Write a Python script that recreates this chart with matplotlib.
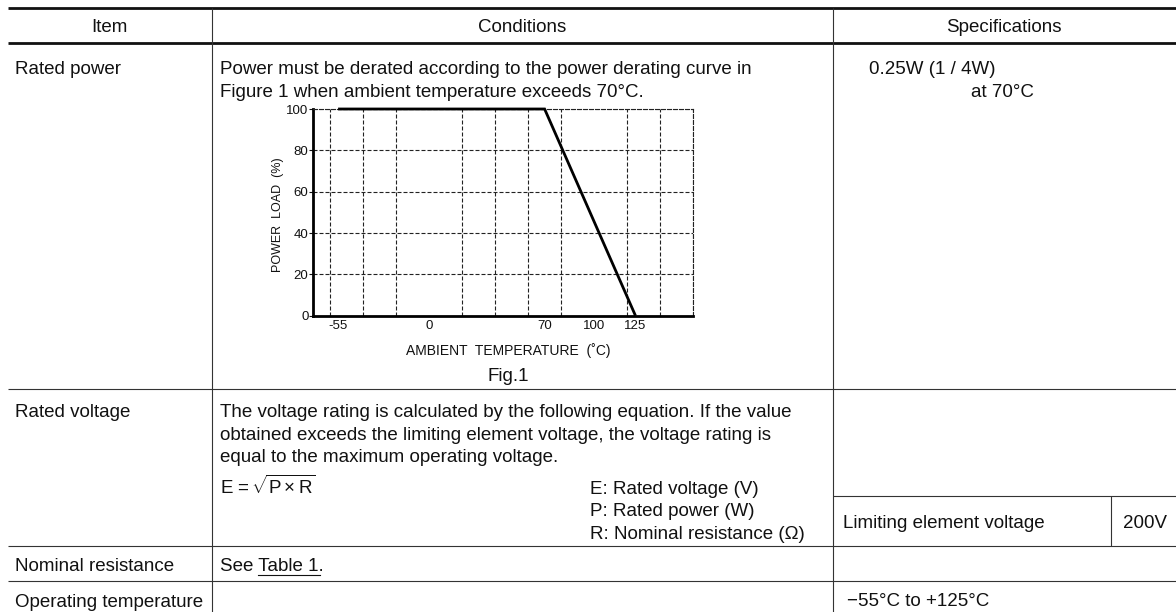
import matplotlib
matplotlib.use('Agg')
import matplotlib.pyplot as plt
from matplotlib.ticker import FixedLocator

plt.rcParams['font.family'] = ['Liberation Sans', 'DejaVu Sans']
plt.rcParams['mathtext.fontset'] = 'custom'
plt.rcParams['mathtext.rm'] = 'Liberation Sans'
plt.rcParams['mathtext.it'] = 'Liberation Sans:italic'
plt.rcParams['mathtext.bf'] = 'Liberation Sans:bold'
plt.rcParams['axes.unicode_minus'] = False

# ---------------- data ----------------
derating_temp = [-55, 70, 125]
derating_load = [100, 100, 0]
x_tick_values = [-55, 0, 70, 100, 125]
x_grid_values = [-60, -55, -40, -20, 0, 20, 40, 60, 80, 100, 120, 140, 160]
y_tick_values = [0, 20, 40, 60, 80, 100]
x_limits = [-70, 160]
y_limits = [0, 100]
x_label = "AMBIENT  TEMPERATURE  (˚C)"
y_label = "POWER  LOAD  (%)"
fig_caption = "Fig.1"

headers = ["Item", "Conditions", "Specifications"]
items = ["Rated power", "Rated voltage", "Nominal resistance", "Operating temperature"]
power_text = ["Power must be derated according to the power derating curve in",
              "Figure 1 when ambient temperature exceeds 70°C."]
power_spec = ["0.25W (1 / 4W)", "at 70°C"]
voltage_text = ["The voltage rating is calculated by the following equation. If the value",
                "obtained exceeds the limiting element voltage, the voltage rating is",
                "equal to the maximum operating voltage."]
voltage_eq = r"E = $\!\sqrt{\mathrm{P}\times\mathrm{R}}$"
voltage_legend = ["E: Rated voltage (V)", "P: Rated power (W)", "R: Nominal resistance (Ω)"]
limit_label = ["Limiting element voltage", "200V"]
resistance_text = ["See ", "Table 1", "."]
temp_spec = "−55°C to +125°C"

# ---------------- figure ----------------
W, H = 1176, 612
fig = plt.figure(figsize=(W / 100, H / 100), dpi=100)
fig.patch.set_facecolor('white')
ax0 = fig.add_axes([0, 0, 1, 1])
ax0.set_xlim(0, W)
ax0.set_ylim(H, 0)
ax0.axis('off')

FS = 13.5
TC = '#111111'
thin = dict(color='#333333', lw=0.8, solid_capstyle='butt')
thick = dict(color='#111111', lw=2.0, solid_capstyle='butt')

# table lines
x_left, c1, c2, x_right = 8, 211.7, 832.7, W
ax0.plot([x_left, x_right], [8.3, 8.3], **thick)
ax0.plot([x_left, x_right], [43.3, 43.3], **thick)
for yy in [389.3, 546, 580.7]:
    ax0.plot([x_left, x_right], [yy, yy], **thin)
ax0.plot([c1, c1], [8.3, H], **thin)
ax0.plot([c2, c2], [8.3, H], **thin)
ax0.plot([c2, x_right], [496, 496], **thin)
ax0.plot([1111.3, 1111.3], [496, 546], **thin)

# headers
for txt, xc in zip(headers, [(x_left + c1) / 2, (c1 + c2) / 2, (c2 + x_right) / 2]):
    ax0.text(xc, 32, txt, ha='center', va='baseline', fontsize=FS, color=TC)

# item column
for txt, yb in zip(items, [74, 417, 571, 607]):
    ax0.text(15, yb, txt, ha='left', va='baseline', fontsize=FS, color=TC)

# rated power
for txt, yb in zip(power_text, [74, 97]):
    ax0.text(220, yb, txt, ha='left', va='baseline', fontsize=FS, color=TC)
ax0.text(869, 74, power_spec[0], ha='left', va='baseline', fontsize=FS, color=TC)
ax0.text(971, 97, power_spec[1], ha='left', va='baseline', fontsize=FS, color=TC)
ax0.text(508, 381, fig_caption, ha='center', va='baseline', fontsize=FS, color=TC)

# rated voltage
for txt, yb in zip(voltage_text, [417, 439.7, 462.4]):
    ax0.text(220, yb, txt, ha='left', va='baseline', fontsize=FS, color=TC)
ax0.text(220, 493.5, voltage_eq, ha='left', va='baseline', fontsize=FS, color=TC)
for txt, yb in zip(voltage_legend, [493.5, 516.2, 538.9]):
    ax0.text(590, yb, txt, ha='left', va='baseline', fontsize=FS, color=TC)
ax0.text(842.7, 528, limit_label[0], ha='left', va='baseline', fontsize=FS, color=TC)
ax0.text(1123, 528, limit_label[1], ha='left', va='baseline', fontsize=FS, color=TC)

# nominal resistance
full = "".join(resistance_text)
ax0.text(220, 571, full, ha='left', va='baseline', fontsize=FS, color=TC)
fig.canvas.draw()
r = fig.canvas.get_renderer()
t1 = ax0.text(0, 0, resistance_text[0] + resistance_text[1], fontsize=FS)
t2 = ax0.text(0, 0, resistance_text[1], fontsize=FS)
w1 = t1.get_window_extent(r).width
w2 = t2.get_window_extent(r).width
t1.remove(); t2.remove()
ax0.plot([220 + w1 - w2, 220 + w1 + 1], [574.5, 574.5], color=TC, lw=0.8)

# operating temperature
ax0.text(846.7, 606, temp_spec, ha='left', va='baseline', fontsize=FS, color=TC)

# ---------------- derating chart ----------------
ax = fig.add_axes([313.3 / W, 1 - 315.7 / H, 380 / W, 206.7 / H])
ax.patch.set_alpha(0)
ax.plot(derating_temp, derating_load, color='black', lw=2.0, clip_on=False,
        solid_capstyle='butt', solid_joinstyle='miter', zorder=5)
ax.set_xlim(*x_limits)
ax.set_ylim(*y_limits)
ax.xaxis.set_major_locator(FixedLocator(x_tick_values))
ax.xaxis.set_minor_locator(FixedLocator(x_grid_values))
ax.set_yticks(y_tick_values)
dash = (0, (3.6, 1.8))
ax.grid(which='minor', axis='x', ls=dash, color='#222222', lw=0.8)
ax.grid(which='major', axis='y', ls=dash, color='#222222', lw=0.8)
ax.tick_params(axis='x', which='both', length=0, labelsize=9.5, pad=3, colors=TC)
ax.tick_params(axis='y', length=3, width=0.8, labelsize=9.5, pad=0.5, colors=TC)
for s in ['left', 'bottom']:
    ax.spines[s].set_linewidth(2.0)
    ax.spines[s].set_color('black')
for s in ['top', 'right']:
    ax.spines[s].set_linestyle(dash)
    ax.spines[s].set_linewidth(0.8)
    ax.spines[s].set_color('#222222')
ax.set_xlabel(x_label, fontsize=10, color=TC)
ax.xaxis.set_label_coords((508 - 313.3) / 380, -(343.5 - 315.7) / 206.7)
ax.set_ylabel(y_label, fontsize=9, color=TC)
ax.yaxis.set_label_coords(-(313.3 - 284.5) / 380, 0.487)

fig.savefig('out.png', dpi=100)
